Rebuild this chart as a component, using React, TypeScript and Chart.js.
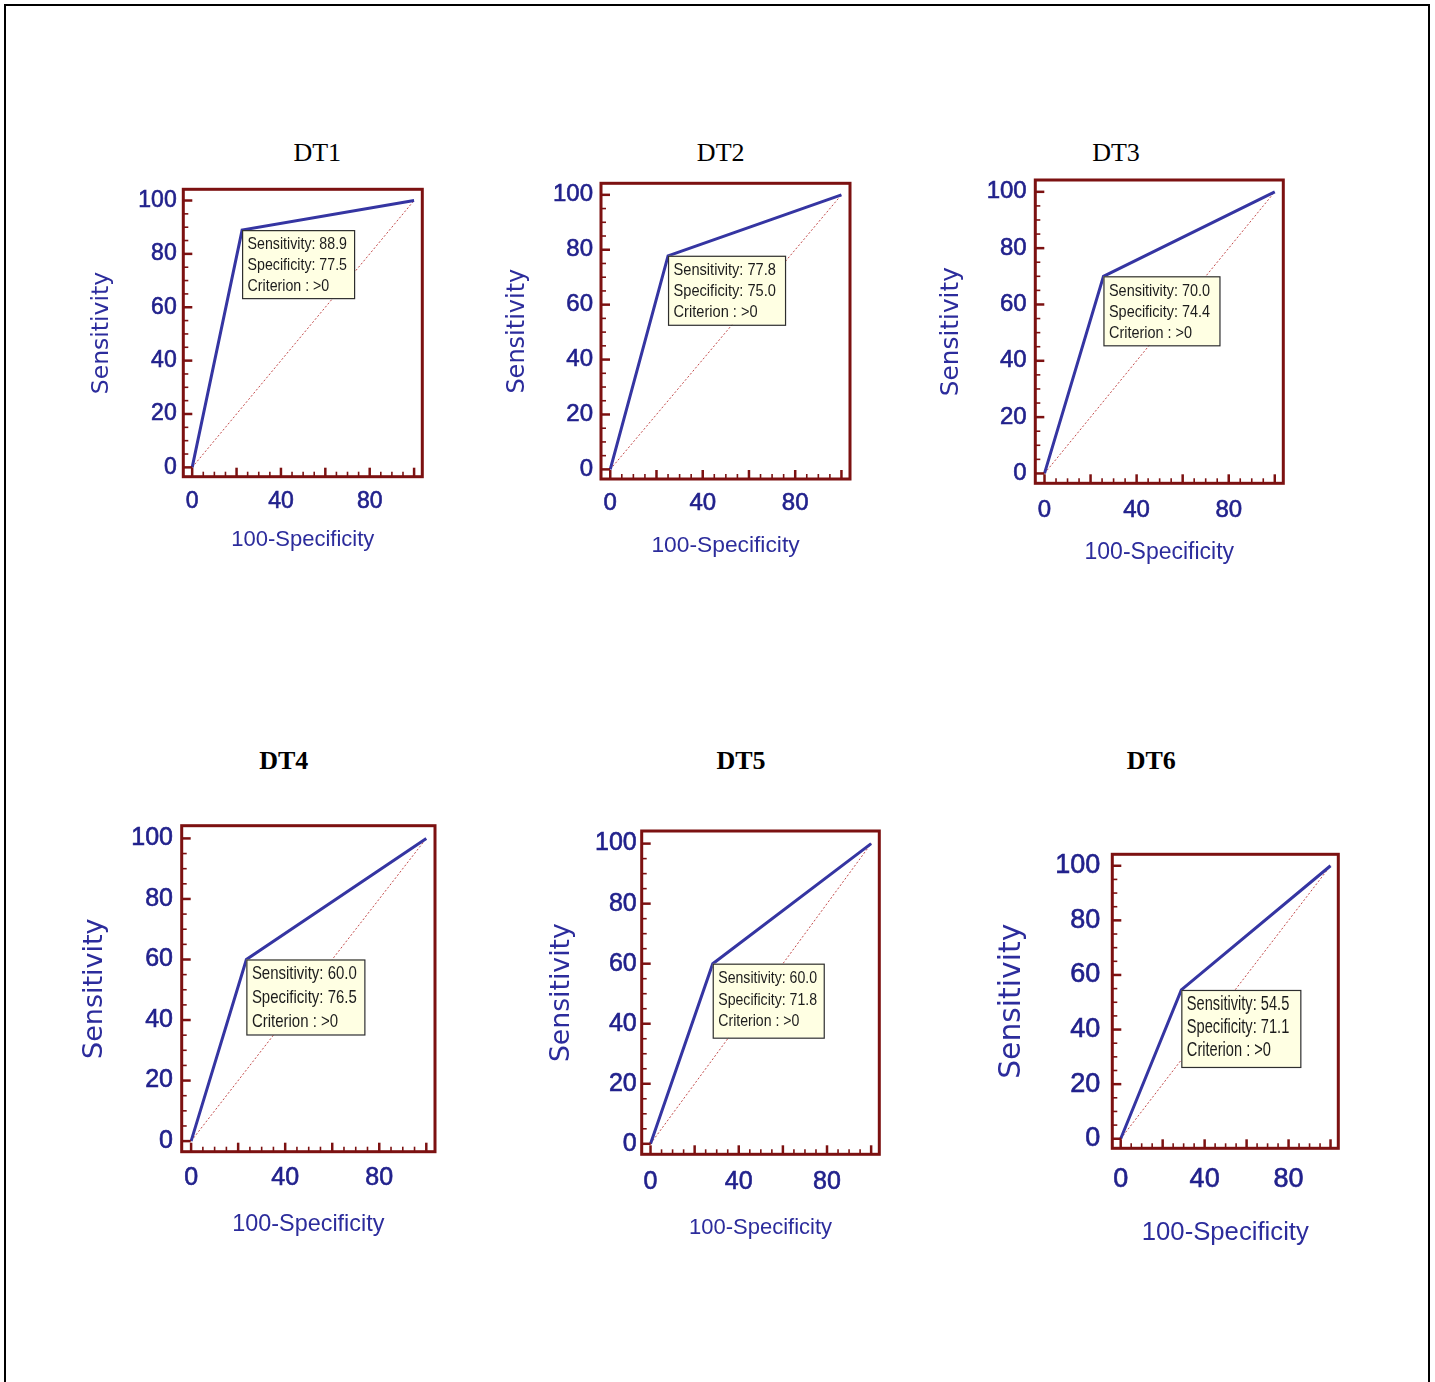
import { useEffect, useRef } from "react";
import { Chart, registerables } from "chart.js";

Chart.register(...registerables);

// ---- data -------------------------------------------------------------
const panelNames = ["DT1", "DT2", "DT3", "DT4", "DT5", "DT6"];
const sensitivity = [88.9, 77.8, 70.0, 60.0, 60.0, 54.5];
const specificity = [77.5, 75.0, 74.4, 76.5, 71.8, 71.1];
const criterion = [">0", ">0", ">0", ">0", ">0", ">0"];
const chanceLine = [0, 100];
const xTickLabels = [0, 40, 80];
const yTickLabels = [0, 20, 40, 60, 80, 100];
const minorStep = 5;
const majorStep = 20;
const xRange = [-4, 103.7];
const yRange = [-3.5, 104.2];

// ---- styling ------------------------------------------------------------
const SANS = "'Liberation Sans', Arial, Helvetica, sans-serif";
const WIDE = "'DejaVu Sans', Verdana, sans-serif";
const SERIF = "'Liberation Serif', 'Times New Roman', serif";
const FRAME = "#7c1111";
const TICK_TEXT = "#21218c";
const TITLE_TEXT = "#2c2c9c";
const ROC_BLUE = "#3535a2";
const CHANCE_RED = "#c24a4a";

// per-panel geometry: plot box [left, top, right, bottom], heading [cx, cy, bold],
// y title [cx, size], x title [cy, size], ticks [size, y padding, x label offset],
// note [font size, x scale, line gap, width, height]
type PanelLayout = {
  box: [number, number, number, number];
  head: [number, number, boolean];
  yTitle: [number, number];
  xTitle: [number, number];
  tick: [number, number, number];
  note: [number, number, number, number, number];
};

const panelLayouts: PanelLayout[] = [
  { box: [183.3, 189.3, 422.3, 476.7], head: [317.3, 153.3, false], yTitle: [102, 23.5], xTitle: [540, 22], tick: [23, 6.6, 25], note: [16.5, 0.86, 21, 112, 68] },
  { box: [601, 183.3, 850, 479], head: [720.7, 153.3, false], yTitle: [517.7, 24], xTitle: [545, 22.8], tick: [24, 8, 24], note: [17, 0.86, 21, 117, 69] },
  { box: [1035.3, 180, 1283.3, 483.3], head: [1116, 153.3, false], yTitle: [951.7, 24.8], xTitle: [551.7, 23], tick: [24, 8.6, 26.7], note: [17, 0.85, 21.3, 116, 69] },
  { box: [181.7, 825.7, 435, 1151.7], head: [283.7, 760.7, true], yTitle: [95, 27], xTitle: [1225, 23.4], tick: [25, 8.7, 26.3], note: [18.5, 0.81, 24, 118, 75] },
  { box: [641.7, 831, 879.3, 1154.3], head: [741, 760.7, true], yTitle: [561.7, 26.7], xTitle: [1228, 22], tick: [25, 5, 27.4], note: [17, 0.83, 21.7, 111, 74] },
  { box: [1112.3, 854.3, 1338.3, 1148.3], head: [1151.3, 760.7, true], yTitle: [1012, 29.8], xTitle: [1233, 25.7], tick: [27, 12, 31.7], note: [19.5, 0.75, 23.3, 119, 77] },
];

// frame around the plot area plus inward-pointing tick marks
const rocFrame = {
  id: "rocFrame",
  afterDraw(chart: any) {
    const { ctx, chartArea: a, scales } = chart;
    const x = scales.x;
    const y = scales.y;
    ctx.save();
    ctx.strokeStyle = FRAME;
    for (let v = 0; v <= 100; v += minorStep) {
      const major = v % majorStep === 0;
      const len = major ? 9 : 5;
      ctx.lineWidth = major ? 2.5 : 1.6;
      const px = x.getPixelForValue(v);
      ctx.beginPath();
      ctx.moveTo(px, a.bottom);
      ctx.lineTo(px, a.bottom - len);
      ctx.stroke();
      const py = y.getPixelForValue(v);
      ctx.beginPath();
      ctx.moveTo(a.left, py);
      ctx.lineTo(a.left + len, py);
      ctx.stroke();
    }
    ctx.lineWidth = 3;
    ctx.strokeRect(a.left, a.top, a.right - a.left, a.bottom - a.top);
    ctx.restore();
  },
};

// yellow call-out anchored at the cut-off point
const rocNote = {
  id: "rocNote",
  afterDatasetsDraw(chart: any, _args: any, opts: any) {
    const { ctx, scales } = chart;
    const px = scales.x.getPixelForValue(opts.fpr);
    const py = scales.y.getPixelForValue(opts.sens);
    const [size, sx, gap, w, h] = opts.style as number[];
    ctx.save();
    ctx.fillStyle = "#ffffe3";
    ctx.fillRect(px, py, w, h);
    ctx.strokeStyle = "#2e2e2e";
    ctx.lineWidth = 1.2;
    ctx.strokeRect(px + 0.5, py + 0.5, w, h);
    ctx.font = `${size}px ${SANS}`;
    ctx.fillStyle = "#1c1c1c";
    ctx.textBaseline = "middle";
    ctx.textAlign = "left";
    (opts.lines as string[]).forEach((t, i) => {
      ctx.save();
      ctx.translate(px + 5.5, py + 14.5 + i * gap);
      ctx.scale(sx, 1);
      ctx.fillText(t, 0, 0);
      ctx.restore();
    });
    ctx.restore();
  },
};

function zeroPadding(s: any) {
  s.paddingTop = 0;
  s.paddingBottom = 0;
  s.paddingLeft = 0;
  s.paddingRight = 0;
}

function RocPanel({ index }: { index: number }) {
  const ref = useRef<HTMLCanvasElement | null>(null);
  const L = panelLayouts[index];
  const [bl, bt, br, bb] = L.box;
  const cl = Math.round(L.yTitle[0] - 0.6 * L.yTitle[1]);
  const ct = Math.round(bt - 5);
  const cr = Math.round(br + 5);
  const cb = Math.round(L.xTitle[0] + 0.6 * L.xTitle[1]);
  const w = cr - cl;
  const h = cb - ct;

  useEffect(() => {
    if (!ref.current) return;
    const sens = sensitivity[index];
    const spec = specificity[index];
    const fpr = 100 - spec;
    const [tickSize, yPad, xOffset] = L.tick;

    const chart = new Chart(ref.current, {
      type: "scatter",
      data: {
        datasets: [
          {
            data: [
              { x: chanceLine[0], y: chanceLine[0] },
              { x: chanceLine[1], y: chanceLine[1] },
            ],
            showLine: true,
            borderColor: CHANCE_RED,
            borderWidth: 1,
            borderDash: [2, 2],
            pointRadius: 0,
            order: 2,
          },
          {
            data: [
              { x: 0, y: 0 },
              { x: fpr, y: sens },
              { x: 100, y: 100 },
            ],
            showLine: true,
            borderColor: ROC_BLUE,
            borderWidth: 3,
            pointRadius: 0,
            order: 1,
          },
        ],
      },
      options: {
        animation: false,
        responsive: false,
        maintainAspectRatio: false,
        events: [],
        layout: { padding: { left: 0, top: bt - ct, right: cr - br, bottom: 0 } },
        plugins: {
          legend: { display: false },
          tooltip: { enabled: false },
          rocNote: {
            fpr,
            sens,
            style: L.note,
            lines: [
              `Sensitivity: ${sens.toFixed(1)}`,
              `Specificity: ${spec.toFixed(1)}`,
              `Criterion : ${criterion[index]}`,
            ],
          },
        } as any,
        scales: {
          x: {
            type: "linear",
            min: xRange[0],
            max: xRange[1],
            grid: { display: false, drawTicks: false },
            border: { display: false },
            afterBuildTicks: (s: any) => {
              s.ticks = xTickLabels.map((v) => ({ value: v }));
            },
            afterFit: (s: any) => {
              s.height = cb - bb;
              zeroPadding(s);
            },
            ticks: {
              autoSkip: false,
              maxRotation: 0,
              minRotation: 0,
              padding: xOffset - 0.6 * tickSize,
              color: TICK_TEXT,
              textStrokeColor: TICK_TEXT,
              textStrokeWidth: 0.6,
              font: { family: SANS, size: tickSize },
            },
            title: {
              display: true,
              text: "100-Specificity",
              color: TITLE_TEXT,
              padding: 0,
              font: { family: SANS, size: L.xTitle[1] },
            },
          },
          y: {
            type: "linear",
            min: yRange[0],
            max: yRange[1],
            grid: { display: false, drawTicks: false },
            border: { display: false },
            afterBuildTicks: (s: any) => {
              s.ticks = yTickLabels.map((v) => ({ value: v }));
            },
            afterFit: (s: any) => {
              s.width = bl - cl;
              zeroPadding(s);
            },
            ticks: {
              autoSkip: false,
              padding: yPad,
              color: TICK_TEXT,
              textStrokeColor: TICK_TEXT,
              textStrokeWidth: 0.6,
              font: { family: SANS, size: tickSize },
            },
            title: {
              display: true,
              text: "Sensitivity",
              color: TITLE_TEXT,
              padding: 0,
              font: { family: WIDE, size: L.yTitle[1] },
            },
          },
        },
      },
      plugins: [rocFrame, rocNote],
    } as any);
    return () => chart.destroy();
  }, [index]);

  return (
    <>
      <div
        style={{
          position: "absolute",
          left: L.head[0],
          top: L.head[1],
          transform: "translate(-50%, -50%)",
          fontFamily: SERIF,
          fontSize: 26,
          lineHeight: "26px",
          fontWeight: L.head[2] ? "bold" : "normal",
          color: "#000",
          whiteSpace: "nowrap",
        }}
      >
        {panelNames[index]}
      </div>
      <canvas
        ref={ref}
        width={w}
        height={h}
        style={{ position: "absolute", left: cl, top: ct, width: w, height: h }}
      />
    </>
  );
}

export default function App() {
  return (
    <div
      style={{
        position: "absolute",
        left: 0,
        top: 0,
        width: 1435,
        height: 1382,
        overflow: "hidden",
        background: "#fff",
      }}
    >
      <div
        style={{
          position: "absolute",
          left: 4,
          top: 4,
          width: 1422,
          height: 1378,
          borderTop: "2px solid #000",
          borderLeft: "2px solid #000",
          borderRight: "2px solid #000",
        }}
      />
      {panelNames.map((_, i) => (
        <RocPanel key={panelNames[i]} index={i} />
      ))}
    </div>
  );
}
